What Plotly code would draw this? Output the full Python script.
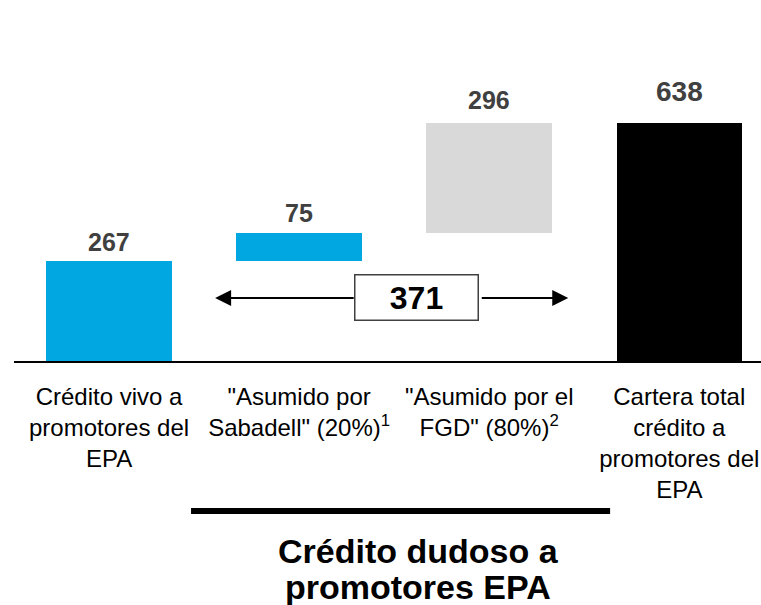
import plotly.graph_objects as go

# Waterfall components of developer loan exposure (EUR m)
categories = [
    "Crédito vivo a<br>promotores del<br>EPA",
    "\"Asumido por<br>Sabadell\" (20%)<sup>1</sup>",
    "\"Asumido por el<br>FGD\" (80%)<sup>2</sup>",
    "Cartera total<br>crédito a<br>promotores del<br>EPA",
]
values = [267, 75, 296, 638]
bar_colors = ["#00A7E1", "#00A7E1", "#D9D9D9", "#000000"]
label_sizes = [25, 25, 25, 28]
label_shifts = [19, 20, 23, 31]

# floating bars sit on the running total; first and last start at zero
bases = [0, values[0], values[0] + values[1], 0]
doubtful_total = values[1] + values[2]
xs = list(range(len(values)))

FONT = "Liberation Sans, Arial, sans-serif"

fig = go.Figure()
fig.add_trace(go.Bar(
    x=xs, y=values, base=bases, width=0.66,
    marker=dict(color=bar_colors, line=dict(width=0)),
    hoverinfo="skip", showlegend=False,
))

annotations = []
for x, v, b, fs, sh in zip(xs, values, bases, label_sizes, label_shifts):
    annotations.append(dict(
        x=x, y=b + v, xref="x", yref="y", text=f"<b>{v}</b>",
        showarrow=False, yanchor="middle", yshift=sh,
        font=dict(family=FONT, size=fs, color="#404040"),
    ))

# double-headed arrow spanning the doubtful-credit bars, with boxed total
arrow_y = 169
box_center = 1.62
box_left, box_right = 1.295, 1.953
tip_left, tip_right = 0.558, 2.416
for tip, tail in ((tip_left, box_left), (tip_right, box_right)):
    annotations.append(dict(
        x=tip, y=arrow_y, ax=tail, ay=arrow_y, xref="x", yref="y",
        axref="x", ayref="y", text="", showarrow=True,
        arrowhead=2, arrowsize=1.6, arrowwidth=2, arrowcolor="#000000",
        standoff=0, startstandoff=0,
    ))
annotations.append(dict(
    x=box_center, y=arrow_y, xref="x", yref="y",
    text=f"<b>{doubtful_total}</b>", showarrow=False,
    width=120, height=42, borderpad=1,
    bgcolor="#FFFFFF", bordercolor="#404040", borderwidth=1.5,
    font=dict(family=FONT, size=32, color="#000000"),
))

# group caption under the bracket rule
for text, y in (("<b>Crédito dudoso a</b>", -0.558), ("<b>promotores EPA</b>", -0.664)):
    annotations.append(dict(
        x=0.541, y=y, xref="paper", yref="paper", text=text,
        showarrow=False, yanchor="middle",
        font=dict(family=FONT, size=34, color="#000000"),
    ))

fig.update_layout(
    width=761, height=605,
    margin=dict(l=14, r=0, t=20, b=244),
    paper_bgcolor="#FFFFFF", plot_bgcolor="#FFFFFF",
    bargap=0,
    annotations=annotations,
    shapes=[dict(
        type="line", xref="paper", yref="paper",
        x0=0.237, x1=0.798, y0=-0.44, y1=-0.44,
        line=dict(color="#000000", width=6),
    )],
    xaxis=dict(
        range=[-0.5, 3.43], tickvals=xs, ticktext=categories,
        showline=True, linecolor="#000000", linewidth=2,
        showgrid=False, zeroline=False, ticks="",
        ticklabelstandoff=13,
        tickfont=dict(family=FONT, size=24, color="#000000"),
        fixedrange=True,
    ),
    yaxis=dict(range=[0, 914], visible=False, fixedrange=True),
    font=dict(family=FONT),
)

fig.write_html("out.html")
